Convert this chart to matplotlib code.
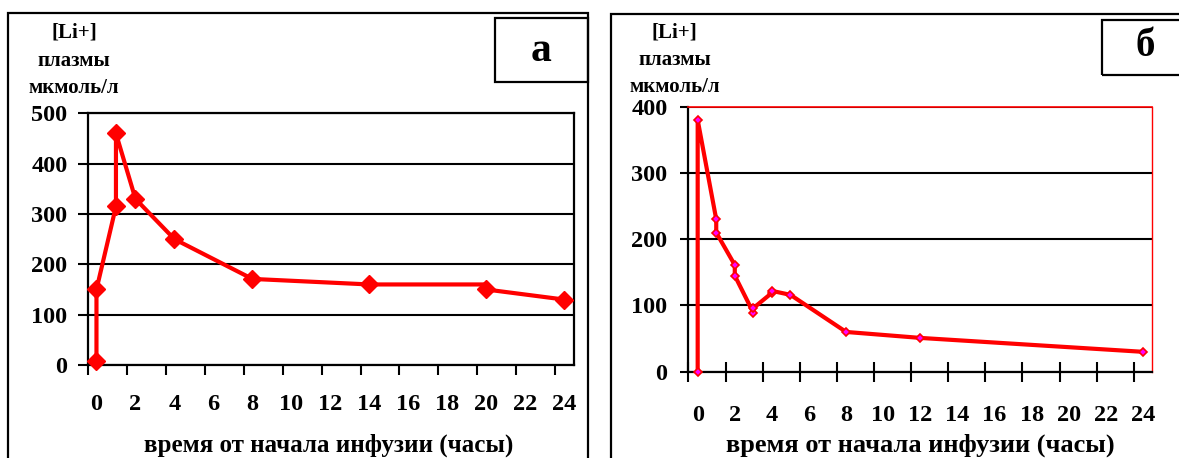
import matplotlib
matplotlib.use("Agg")
import matplotlib.pyplot as plt
from matplotlib.patches import Rectangle
from matplotlib.ticker import FixedLocator

# ---------------- data ----------------
hours_a = [0, 0, 1, 1, 2, 4, 8, 14, 20, 20, 24]
li_a = [8, 150, 315, 460, 330, 250, 171, 160, 160, 150, 130]
marker_idx_a = [0, 1, 2, 3, 4, 5, 6, 7, 9, 10]

hours_b = [0, 0, 1, 1, 2, 2, 3, 3, 4, 4, 5, 8, 12, 24]
li_b = [0, 380, 230, 210, 161, 145, 89, 96, 119, 122, 116, 60, 51, 30]

xticks = list(range(0, 25, 2))
xtick_labels = [str(t) for t in xticks]
yticks_a = [0, 100, 200, 300, 400, 500]
yticks_b = [0, 100, 200, 300, 400]

ylabel_lines = ["[Li+]", "плазмы", "мкмоль/л"]
xlabel = "время от начала инфузии (часы)"
panel_a = "а"
panel_b = "б"

# ---------------- figure ----------------
W, H = 1179, 458
DPI = 100
plt.rcParams['font.family'] = ['Liberation Serif', 'DejaVu Serif']
plt.rcParams['font.weight'] = 'bold'
fig = plt.figure(figsize=(W / DPI, H / DPI), dpi=DPI)
fig.patch.set_facecolor('white')


def fx(px):
    return px / W


def fy(py):
    return 1 - py / H


def axes_px(x0, y0, x1, y1):
    return fig.add_axes([fx(x0), fy(y1), fx(x1) - fx(x0), (y1 - y0) / H])


# panel frames
fig.add_artist(Rectangle((fx(8.3), fy(470)), fx(588) - fx(8.3), (470 - 13) / H,
                         transform=fig.transFigure, fill=False, ec='black', lw=1.6))
fig.add_artist(Rectangle((fx(610.7), fy(470)), fx(1200) - fx(610.7), (470 - 13.5) / H,
                         transform=fig.transFigure, fill=False, ec='black', lw=1.6))
# label boxes
fig.add_artist(Rectangle((fx(494.8), fy(82)), fx(588) - fx(494.8), (82 - 18) / H,
                         transform=fig.transFigure, fill=False, ec='black', lw=1.6))
fig.add_artist(Rectangle((fx(1101.7), fy(75)), fx(1200) - fx(1101.7), (75 - 19.5) / H,
                         transform=fig.transFigure, fill=False, ec='black', lw=1.6))
fig.text(fx(540.7), fy(51), panel_a, fontsize=30, fontweight='bold', ha='center', va='center')
fig.text(fx(1145), fy(46), panel_b, fontsize=28, fontweight='bold', ha='center', va='center')


def style_common(ax, xlo, pad):
    ax.set_xlim(xlo, 24.5)
    ax.xaxis.set_major_locator(FixedLocator(xticks))
    ax.set_xticklabels(xtick_labels)
    ax.xaxis.set_minor_locator(FixedLocator([xlo + 2 * k for k in range(13)]))
    ax.tick_params(axis='x', which='major', length=0, labelsize=17.5, pad=pad)
    ax.grid(axis='y', color='black', lw=1.5)
    ax.set_axisbelow(True)


# ---- panel a ----
ax1 = axes_px(87.7, 113.3, 573.9, 365)
ax1.plot(hours_a, li_a, color='#ff0000', lw=3.0, marker='D', ms=9,
         mfc='#ff0000', mec='#ff0000', markevery=marker_idx_a, zorder=3, clip_on=False)
ax1.set_ylim(0, 500)
ax1.set_yticks(yticks_a)
style_common(ax1, -0.45, 21)
ax1.tick_params(axis='x', which='minor', length=7, width=1.5, direction='out', color='black')
ax1.tick_params(axis='y', which='major', length=7, width=1.5, labelsize=17.5, pad=7.5)
for s in ax1.spines.values():
    s.set_color('black')
    s.set_linewidth(1.6)
for lab in ax1.get_xticklabels() + ax1.get_yticklabels():
    lab.set_fontweight('bold')
for i, t in enumerate(ylabel_lines):
    fig.text(fx(74), fy(33 + 27.5 * i), t, fontsize=15, fontweight='bold', ha='center', va='center')
fig.text(fx(329), fy(445), xlabel, fontsize=18, fontweight='bold', ha='center', va='center')

# ---- panel b ----
ax2 = axes_px(688.4, 106.7, 1152.3, 371.7)
ax2.plot(hours_b, li_b, color='#ff0000', lw=3.0, zorder=3, clip_on=False)
ax2.plot(hours_b, li_b, ls='none', marker='D', ms=4.4, mfc='#ff00ff', mec='#ff0000',
         mew=1.2, zorder=4, clip_on=False)
ax2.set_ylim(0, 400)
ax2.set_yticks(yticks_b)
style_common(ax2, -0.5, 24)
ax2.tick_params(axis='x', which='minor', length=14, width=1.5, direction='inout', color='black')
ax2.tick_params(axis='y', which='major', length=5.5, width=1.5, labelsize=17.5, pad=9.5)
ax2.spines['left'].set_color('black')
ax2.spines['bottom'].set_color('black')
ax2.spines['left'].set_linewidth(1.6)
ax2.spines['bottom'].set_linewidth(1.6)
ax2.spines['top'].set_color('#ff0000')
ax2.spines['right'].set_color('#ff0000')
ax2.spines['top'].set_linewidth(1.2)
ax2.spines['right'].set_linewidth(1.0)
for lab in ax2.get_xticklabels() + ax2.get_yticklabels():
    lab.set_fontweight('bold')
for i, t in enumerate(ylabel_lines):
    fig.text(fx(674.5), fy(33 + 27 * i), t, fontsize=15, fontweight='bold', ha='center', va='center')
fig.text(fx(920.5), fy(445), xlabel, fontsize=19, fontweight='bold', ha='center', va='center')

fig.savefig('out.png', dpi=DPI)
